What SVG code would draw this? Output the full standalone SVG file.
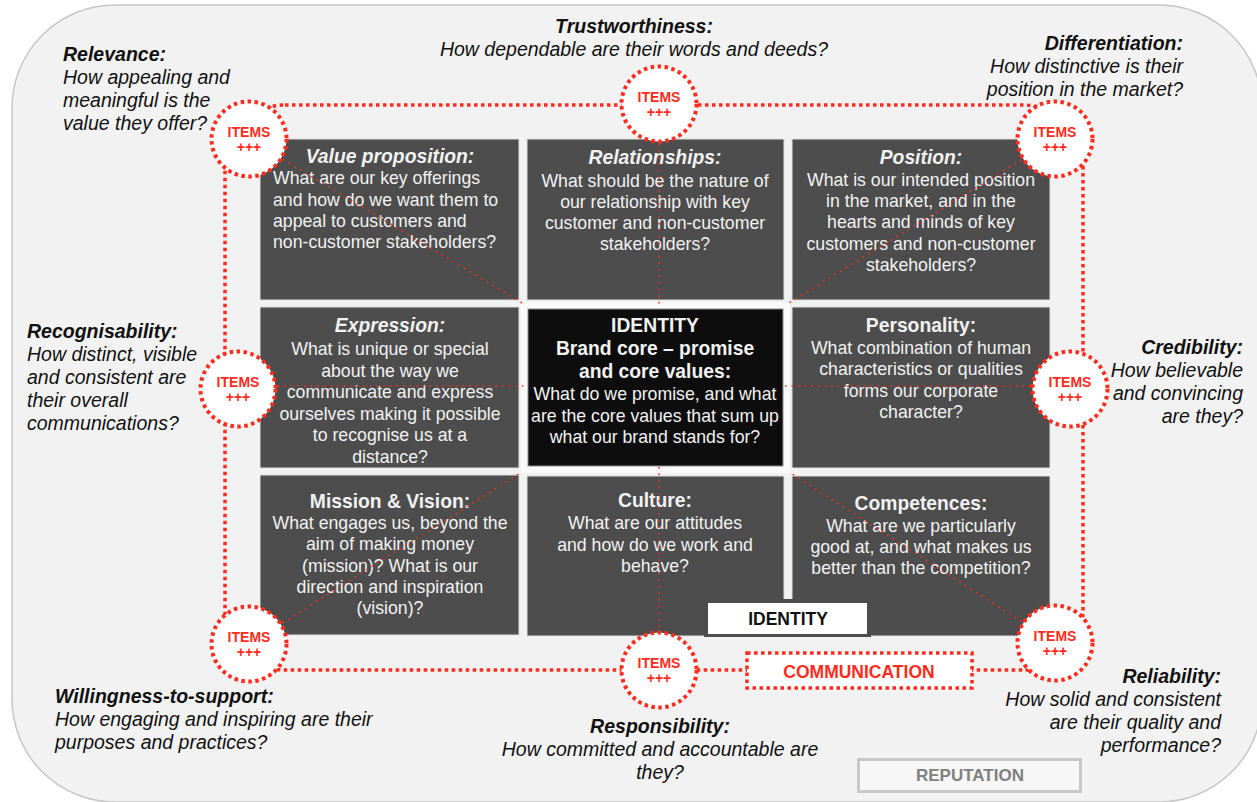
<svg xmlns="http://www.w3.org/2000/svg" width="1257" height="802" viewBox="0 0 1257 802">
<style>
text{font-family:"Liberation Sans",Arial,sans-serif}
.bg{fill:#f2f2f2;stroke:#c6c6c6;stroke-width:1.5}
.cell{fill:#4d4d4d;stroke:#dedede;stroke-width:1}
.core{fill:#0d0d0d;stroke:#8a8a8a;stroke-width:1}
.ct{font-size:17.7px;fill:#f2f2f2;text-anchor:middle}
.cl{text-anchor:start}
.ch{font-size:19.3px;font-weight:bold}
.it{font-style:italic}
.ot{font-size:19.5px;font-style:italic;fill:#111}
.oh{font-weight:bold}
.mid{text-anchor:middle}
.end{text-anchor:end}
.frame{fill:none;stroke:#ff2b1c;stroke-width:3.5;stroke-dasharray:3.5 3.5}
.thin{fill:none;stroke:#ff2b1c;stroke-width:1.6;stroke-dasharray:1.6 5}
.item{fill:#fff;stroke:#ff2b1c;stroke-width:4;stroke-dasharray:3.5 3.5}
.itxt{font-size:14px;font-weight:bold;fill:#ff2b1c;text-anchor:middle}
.lbl{font-size:17.5px;font-weight:bold;text-anchor:middle}
</style>
<rect class="bg" x="12" y="5" width="1250" height="797" rx="103" ry="103"/>

<g id="cell-value">
<rect class="cell" x="260" y="139" width="259" height="161"/>
<text class="ct ch it" x="390" y="163">Value proposition:</text>
<text class="ct cl" x="273" y="184">What are our key offerings</text>
<text class="ct cl" x="273" y="206">and how do we want them to</text>
<text class="ct cl" x="273" y="227">appeal to customers and</text>
<text class="ct cl" x="273" y="248">non-customer stakeholders?</text>
</g>
<g id="cell-relationships">
<rect class="cell" x="527" y="139" width="257" height="161"/>
<text class="ct ch it" x="655" y="164">Relationships:</text>
<text class="ct" x="655" y="187">What should be the nature of</text>
<text class="ct" x="655" y="208">our relationship with key</text>
<text class="ct" x="655" y="229">customer and non-customer</text>
<text class="ct" x="655" y="250">stakeholders?</text>
</g>
<g id="cell-position">
<rect class="cell" x="792" y="139" width="258" height="161"/>
<text class="ct ch it" x="921" y="164">Position:</text>
<text class="ct" x="921" y="186">What is our intended position</text>
<text class="ct" x="921" y="207">in the market, and in the</text>
<text class="ct" x="921" y="228">hearts and minds of key</text>
<text class="ct" x="921" y="250">customers and non-customer</text>
<text class="ct" x="921" y="271">stakeholders?</text>
</g>
<g id="cell-expression">
<rect class="cell" x="260" y="307" width="259" height="161"/>
<text class="ct ch it" x="390" y="332">Expression:</text>
<text class="ct" x="390" y="355">What is unique or special</text>
<text class="ct" x="390" y="377">about the way we</text>
<text class="ct" x="390" y="398">communicate and express</text>
<text class="ct" x="390" y="420">ourselves making it possible</text>
<text class="ct" x="390" y="441">to recognise us at a</text>
<text class="ct" x="390" y="463">distance?</text>
</g>
<g id="cell-core">
<rect x="521" y="302" width="269" height="171" fill="#fafafa"/>
<rect class="core" x="528" y="309" width="255" height="157"/>
<text class="ct ch" x="655" y="332">IDENTITY</text>
<text class="ct ch" x="655" y="355">Brand core – promise</text>
<text class="ct ch" x="655" y="378">and core values:</text>
<text class="ct" x="655" y="400">What do we promise, and what</text>
<text class="ct" x="655" y="422">are the core values that sum up</text>
<text class="ct" x="655" y="443">what our brand stands for?</text>
</g>
<g id="cell-personality">
<rect class="cell" x="792" y="307" width="258" height="161"/>
<text class="ct ch" x="921" y="332">Personality:</text>
<text class="ct" x="921" y="354">What combination of human</text>
<text class="ct" x="921" y="375">characteristics or qualities</text>
<text class="ct" x="921" y="397">forms our corporate</text>
<text class="ct" x="921" y="418">character?</text>
</g>
<g id="cell-mission">
<rect class="cell" x="260" y="475" width="259" height="160"/>
<text class="ct ch" x="390" y="508">Mission &amp; Vision:</text>
<text class="ct" x="390" y="529">What engages us, beyond the</text>
<text class="ct" x="390" y="550">aim of making money</text>
<text class="ct" x="390" y="572">(mission)? What is our</text>
<text class="ct" x="390" y="593">direction and inspiration</text>
<text class="ct" x="390" y="614">(vision)?</text>
</g>
<g id="cell-culture">
<rect class="cell" x="527" y="476" width="257" height="160"/>
<text class="ct ch" x="655" y="507">Culture:</text>
<text class="ct" x="655" y="529">What are our attitudes</text>
<text class="ct" x="655" y="551">and how do we work and</text>
<text class="ct" x="655" y="572">behave?</text>
</g>
<g id="cell-competences">
<rect class="cell" x="792" y="476" width="258" height="160"/>
<text class="ct ch" x="921" y="510">Competences:</text>
<text class="ct" x="921" y="532">What are we particularly</text>
<text class="ct" x="921" y="553">good at, and what makes us</text>
<text class="ct" x="921" y="574">better than the competition?</text>
</g>
<g id="label-identity">
<rect x="704" y="599" width="167" height="38" fill="#4d4d4d"/>
<rect x="708" y="603" width="159" height="31" fill="#fff"/>
<text class="lbl" x="788" y="625" fill="#111">IDENTITY</text>
</g>

<g id="connectors">
<rect class="frame" x="225" y="105" width="858" height="565" rx="60" ry="60"/>
<line class="thin" x1="249" y1="139" x2="522" y2="303"/>
<line class="thin" x1="659" y1="104" x2="659" y2="305"/>
<line class="thin" x1="1055" y1="139" x2="789" y2="303"/>
<line class="thin" x1="238" y1="386" x2="527" y2="386"/>
<line class="thin" x1="785" y1="386" x2="1070" y2="386"/>
<line class="thin" x1="249" y1="644" x2="522" y2="472"/>
<line class="thin" x1="659" y1="467" x2="659" y2="670"/>
<line class="thin" x1="1055" y1="643" x2="789" y2="472"/>
</g>

<g id="item-tl"><circle class="item" cx="249" cy="139" r="37.5"/><text class="itxt" x="249" y="137">ITEMS</text><text class="itxt" x="249" y="152">+++</text></g>
<g id="item-tm"><circle class="item" cx="659" cy="104" r="37.5"/><text class="itxt" x="659" y="102">ITEMS</text><text class="itxt" x="659" y="117">+++</text></g>
<g id="item-tr"><circle class="item" cx="1055" cy="139" r="37.5"/><text class="itxt" x="1055" y="137">ITEMS</text><text class="itxt" x="1055" y="152">+++</text></g>
<g id="item-ml"><circle class="item" cx="238" cy="389" r="37.5"/><text class="itxt" x="238" y="387">ITEMS</text><text class="itxt" x="238" y="402">+++</text></g>
<g id="item-mr"><circle class="item" cx="1070" cy="389" r="37.5"/><text class="itxt" x="1070" y="387">ITEMS</text><text class="itxt" x="1070" y="402">+++</text></g>
<g id="item-bl"><circle class="item" cx="249" cy="644" r="37.5"/><text class="itxt" x="249" y="642">ITEMS</text><text class="itxt" x="249" y="657">+++</text></g>
<g id="item-bm"><circle class="item" cx="659" cy="670" r="37.5"/><text class="itxt" x="659" y="668">ITEMS</text><text class="itxt" x="659" y="683">+++</text></g>
<g id="item-br"><circle class="item" cx="1055" cy="643" r="37.5"/><text class="itxt" x="1055" y="641">ITEMS</text><text class="itxt" x="1055" y="656">+++</text></g>

<g id="label-communication">
<rect x="747" y="653" width="225" height="35" fill="#fff" stroke="#ff2b1c" stroke-width="3.5" stroke-dasharray="3.5 3.5"/>
<text class="lbl" x="859" y="678" fill="#ff2b1c">COMMUNICATION</text>
</g>
<g id="label-reputation">
<rect x="858.5" y="759.5" width="222" height="32" fill="#f7f7f7" stroke="#c8c8c8" stroke-width="3"/>
<text class="lbl" x="970" y="781" fill="#808080" style="font-size:17px">REPUTATION</text>
</g>

<g id="q-trust">
<text class="ot oh mid" x="634" y="33">Trustworthiness:</text>
<text class="ot mid" x="634" y="56">How dependable are their words and deeds?</text>
</g>
<g id="q-relevance">
<text class="ot oh" x="63" y="61">Relevance:</text>
<text class="ot" x="63" y="84">How appealing and</text>
<text class="ot" x="63" y="107">meaningful is the</text>
<text class="ot" x="63" y="130">value they offer?</text>
</g>
<g id="q-differentiation">
<text class="ot oh end" x="1183" y="50">Differentiation:</text>
<text class="ot end" x="1183" y="73">How distinctive is their</text>
<text class="ot end" x="1183" y="96">position in the market?</text>
</g>
<g id="q-recognisability">
<text class="ot oh" x="27" y="338">Recognisability:</text>
<text class="ot" x="27" y="361">How distinct, visible</text>
<text class="ot" x="27" y="384">and consistent are</text>
<text class="ot" x="27" y="407">their overall</text>
<text class="ot" x="27" y="430">communications?</text>
</g>
<g id="q-credibility">
<text class="ot oh end" x="1243" y="354">Credibility:</text>
<text class="ot end" x="1243" y="377">How believable</text>
<text class="ot end" x="1243" y="400">and convincing</text>
<text class="ot end" x="1243" y="423">are they?</text>
</g>
<g id="q-willingness">
<text class="ot oh" x="55" y="703">Willingness-to-support:</text>
<text class="ot" x="55" y="726">How engaging and inspiring are their</text>
<text class="ot" x="55" y="749">purposes and practices?</text>
</g>
<g id="q-responsibility">
<text class="ot oh mid" x="660" y="733">Responsibility:</text>
<text class="ot mid" x="660" y="756">How committed and accountable are</text>
<text class="ot mid" x="660" y="779">they?</text>
</g>
<g id="q-reliability">
<text class="ot oh end" x="1221" y="683">Reliability:</text>
<text class="ot end" x="1221" y="706">How solid and consistent</text>
<text class="ot end" x="1221" y="729">are their quality and</text>
<text class="ot end" x="1221" y="752">performance?</text>
</g>
</svg>
